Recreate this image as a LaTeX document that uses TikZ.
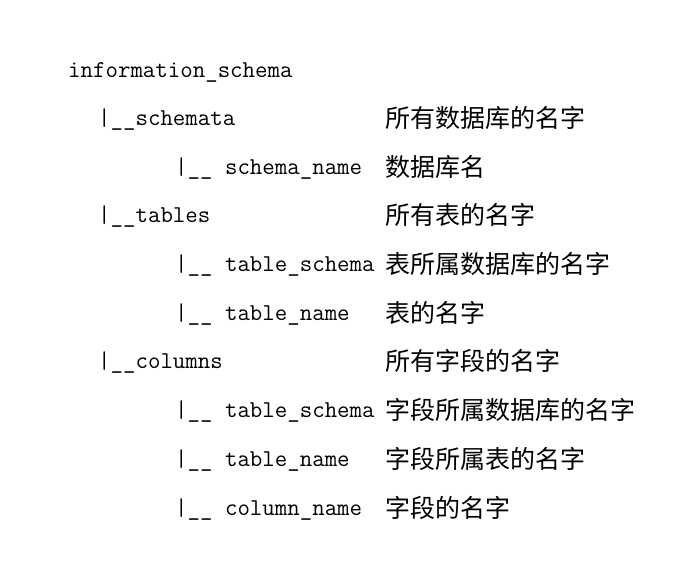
\documentclass[tikz,border=0pt]{standalone}
\usepackage{fontspec}
\newfontfamily\cjk{Noto Sans CJK SC}

\begin{document}
\begin{tikzpicture}[x=1pt,y=1pt,
  tree/.style={anchor=base west, inner sep=0pt, font=\fontsize{24.2}{24}\selectfont\ttfamily},
  desc/.style={anchor=base west, inner sep=0pt, yshift=-2pt, font=\fontsize{25}{25}\selectfont\cjk}]
\useasboundingbox (0,0) rectangle (694,-565);
\node[tree] (root) at (68,-77) {information\_schema};
\node[tree] (schemata) at (98,-125) {|\_\_schemata};
\node[desc] (dschemata) at (385,-125) {所有数据库的名字};
\node[tree] (schemaname) at (175,-174) {|\_\_ schema\_name};
\node[desc] (dschemaname) at (385,-174) {数据库名};
\node[tree] (tables) at (98,-222) {|\_\_tables};
\node[desc] (dtables) at (385,-222) {所有表的名字};
\node[tree] (tabschema) at (175,-271) {|\_\_ table\_schema};
\node[desc] (dtabschema) at (385,-271) {表所属数据库的名字};
\node[tree] (tabname) at (175,-320) {|\_\_ table\_name};
\node[desc] (dtabname) at (385,-320) {表的名字};
\node[tree] (columns) at (98,-368) {|\_\_columns};
\node[desc] (dcolumns) at (385,-368) {所有字段的名字};
\node[tree] (colschema) at (175,-417) {|\_\_ table\_schema};
\node[desc] (dcolschema) at (385,-417) {字段所属数据库的名字};
\node[tree] (coltable) at (175,-466) {|\_\_ table\_name};
\node[desc] (dcoltable) at (385,-466) {字段所属表的名字};
\node[tree] (colname) at (175,-515) {|\_\_ column\_name};
\node[desc] (dcolname) at (385,-515) {字段的名字};
\end{tikzpicture}
\end{document}
